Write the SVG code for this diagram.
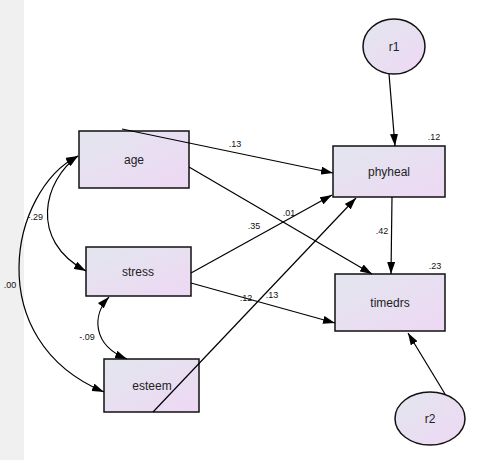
<svg xmlns="http://www.w3.org/2000/svg" width="491" height="460" viewBox="0 0 491 460">
<defs>
<linearGradient id="g" x1="0" y1="0" x2="1" y2="1">
<stop offset="0" stop-color="#e2e6ee"/>
<stop offset="1" stop-color="#eed8f4"/>
</linearGradient>
<marker id="ah" viewBox="0 0 12 8" refX="12" refY="4" markerWidth="12" markerHeight="8" markerUnits="userSpaceOnUse" orient="auto-start-reverse">
<path d="M0,0 L12,4 L0,8 Z" fill="#000"/>
</marker>
<style>
.box{fill:url(#g);stroke:#111;stroke-width:1.5}
.nt{font-family:"Liberation Sans",Arial,sans-serif;font-size:12px;fill:#222;text-anchor:middle}
.lb{font-family:"Liberation Sans",Arial,sans-serif;font-size:9px;fill:#111;text-anchor:middle}
.ln{fill:none;stroke:#000;stroke-width:1.2;marker-end:url(#ah)}
.dl{fill:none;stroke:#000;stroke-width:1.2;marker-start:url(#ah);marker-end:url(#ah)}
</style>
</defs>
<rect x="0" y="0" width="491" height="460" fill="#fff"/>
<rect x="0" y="0" width="24" height="460" fill="#f0f0f0"/>
<g id="age"><rect class="box" x="79" y="131" width="110" height="57"/><text class="nt" x="134" y="164">age</text></g>
<g id="stress"><rect class="box" x="86" y="247" width="105" height="49"/><text class="nt" x="138" y="276">stress</text></g>
<g id="esteem"><rect class="box" x="104" y="359" width="95" height="53"/><text class="nt" x="152" y="390">esteem</text></g>
<g id="phyheal"><rect class="box" x="333" y="146" width="112" height="51"/><text class="nt" x="389" y="176">phyheal</text></g>
<g id="timedrs"><rect class="box" x="335" y="274" width="110" height="57"/><text class="nt" x="390" y="307">timedrs</text></g>
<g id="r1"><ellipse class="box" cx="394" cy="46.5" rx="31" ry="27.5"/><text class="nt" x="394" y="51">r1</text></g>
<g id="r2"><ellipse class="box" cx="430" cy="418.5" rx="35" ry="26.5"/><text class="nt" x="430" y="423">r2</text></g>
<g id="connectors">
<path class="ln" d="M389,74 L395,146"/>
<path class="ln" d="M445,394 L408,333"/>
<path class="ln" d="M122,129 L333,173"/>
<path class="ln" d="M189,167 L372,274"/>
<path class="ln" d="M191,273 L332,195"/>
<path class="ln" d="M191,283 L335,323"/>
<path class="ln" d="M153,412 L356,198"/>
<path class="ln" d="M392,197 L391,274"/>
<path class="dl" d="M78,156 C44,180 28,240 86,271"/>
<path class="dl" d="M78,156 C10,190 -20,340 104,392"/>
<path class="dl" d="M109,297 C92,315 92,345 127,359"/>
<text class="lb" x="235" y="147">.13</text>
<text class="lb" x="289" y="216">.01</text>
<text class="lb" x="254" y="229">.35</text>
<text class="lb" x="246" y="301">.12</text>
<text class="lb" x="272" y="298">.13</text>
<text class="lb" x="382" y="234">.42</text>
<text class="lb" x="434" y="140">.12</text>
<text class="lb" x="435" y="269">.23</text>
<text class="lb" x="10" y="288">.00</text>
<text class="lb" x="43" y="220" style="text-anchor:end">-.29</text>
<text class="lb" x="87" y="340">-.09</text>
</g>
</svg>
